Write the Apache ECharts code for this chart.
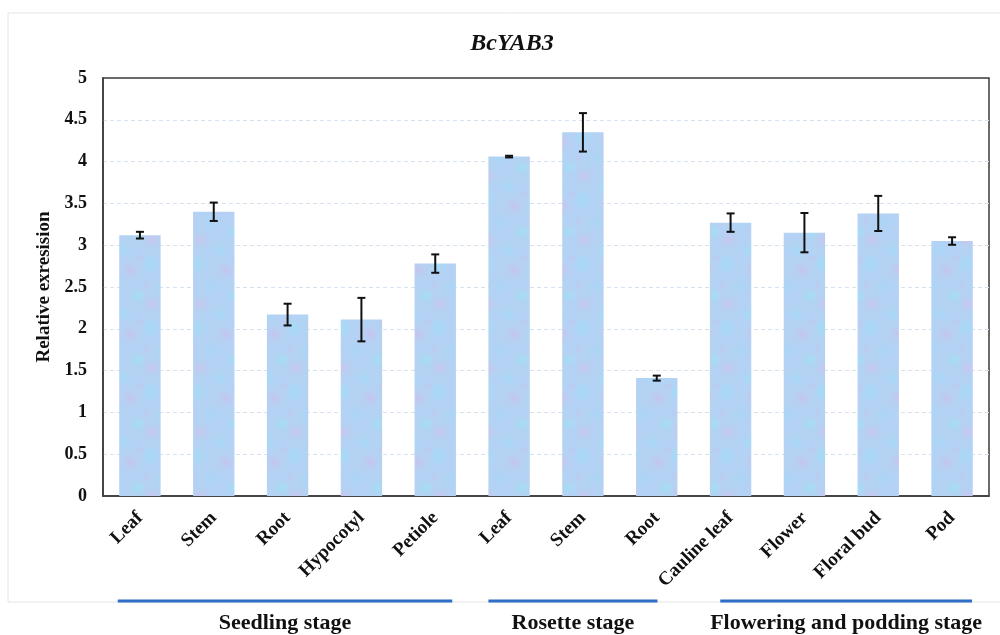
<!DOCTYPE html>
<html>
<head>
<meta charset="utf-8">
<script src="https://cdn.jsdelivr.net/npm/echarts@6/dist/echarts.min.js"></script>
<style>
html,body{margin:0;padding:0;background:#fff;}
#chart{width:1000px;height:635px;}
</style>
</head>
<body>
<div id="chart"></div>
<script>
const categories = ['Leaf','Stem','Root','Hypocotyl','Petiole','Leaf','Stem','Root','Cauline leaf','Flower','Floral bud','Pod'];
const values = [3.12, 3.40, 2.17, 2.11, 2.78, 4.06, 4.35, 1.41, 3.27, 3.15, 3.38, 3.05];
const errors = [0.04, 0.11, 0.13, 0.26, 0.11, 0.01, 0.23, 0.03, 0.11, 0.235, 0.21, 0.045];
const stageNames = ['Seedling stage', 'Rosette stage', 'Flowering and podding stage'];
const stageFirst = [0, 5, 8];
const stageLast = [4, 7, 11];
const yTicks = [0, 0.5, 1, 1.5, 2, 2.5, 3, 3.5, 4, 4.5, 5];

// layout only: how far (in category widths) each stage underline reaches past its first/last category centre
const stagePadLeft = [0.30, 0.28, 0.14];
const stagePadRight = [0.23, 0.01, 0.27];

const serif = '"Liberation Serif", "DejaVu Serif", serif';
const chart = echarts.init(document.getElementById('chart'), null, {renderer: 'canvas'});

// deterministic soft texture tile for the bars
function makeTile() {
  const c = document.createElement('canvas');
  c.width = 48; c.height = 64;
  const g = c.getContext('2d');
  g.fillStyle = '#b4d2f3';
  g.fillRect(0, 0, 48, 64);
  const blobs = [
    [6, 8, 14, 'rgba(160,222,248,0.85)'],
    [34, 14, 12, 'rgba(205,190,238,0.75)'],
    [20, 30, 13, 'rgba(168,214,246,0.8)'],
    [42, 40, 11, 'rgba(158,226,246,0.8)'],
    [8, 48, 12, 'rgba(210,192,236,0.7)'],
    [28, 58, 12, 'rgba(165,218,247,0.85)'],
    [44, 2, 8, 'rgba(190,200,240,0.7)'],
    [0, 30, 8, 'rgba(200,196,238,0.65)']
  ];
  blobs.forEach(b => {
    const rg = g.createRadialGradient(b[0], b[1], 0, b[0], b[1], b[2]);
    rg.addColorStop(0, b[3]);
    rg.addColorStop(1, 'rgba(180,210,243,0)');
    g.fillStyle = rg;
    for (let dx = -48; dx <= 48; dx += 48) for (let dy = -64; dy <= 64; dy += 64) {
      g.beginPath(); g.arc(b[0] + dx, b[1] + dy, b[2], 0, Math.PI * 2); g.fill();
    }
  });
  return c;
}
const barFill = {image: makeTile(), repeat: 'repeat'};

const errData = values.map((v, i) => [i, v, errors[i]]);

const option = {
  animation: false,
  backgroundColor: '#ffffff',
  title: {
    text: 'BcYAB3',
    left: 507, top: 27, textAlign: 'center',
    textStyle: {fontFamily: serif, fontSize: 24, fontWeight: 'bold', fontStyle: 'italic', color: '#111'}
  },
  grid: {
    left: 103, right: 11, top: 78, bottom: 139,
    show: true, borderColor: '#3a3a3a', borderWidth: 1.5, backgroundColor: 'transparent'
  },
  xAxis: {
    type: 'category',
    data: categories,
    axisLine: {show: true, lineStyle: {color: '#3a3a3a', width: 1.5}},
    axisTick: {show: false},
    axisLabel: {
      rotate: 45, margin: 19, interval: 0,
      fontFamily: serif, fontSize: 19, fontWeight: 'bold', color: '#111'
    }
  },
  yAxis: {
    type: 'value',
    min: yTicks[0], max: yTicks[yTicks.length - 1], interval: 0.5,
    name: 'Relative exresision',
    nameLocation: 'middle', nameGap: 43, nameRotate: 90,
    nameTextStyle: {fontFamily: serif, fontSize: 19, fontWeight: 'bold', color: '#111'},
    axisLine: {show: true, lineStyle: {color: '#3a3a3a', width: 1.5}},
    axisTick: {show: false},
    axisLabel: {
      margin: 16, fontFamily: serif, fontSize: 18, fontWeight: 'bold', color: '#111',
      formatter: v => String(v)
    },
    splitLine: {show: true, showMinLine: false, showMaxLine: false, lineStyle: {color: '#d6e2ee', type: [4, 3], width: 1}}
  },
  series: [
    {
      type: 'bar',
      data: values,
      barCategoryGap: '44%',
      itemStyle: {color: barFill},
      z: 2
    },
    {
      type: 'custom',
      data: errData,
      z: 5,
      renderItem: function (params, api) {
        const x = api.value(0), v = api.value(1), e = api.value(2);
        const top = api.coord([x, v + e]);
        const bot = api.coord([x, v - e]);
        const cw = 4;
        const style = {stroke: '#111', lineWidth: 2};
        return {
          type: 'group',
          children: [
            {type: 'line', shape: {x1: top[0], y1: top[1], x2: bot[0], y2: bot[1]}, style: style},
            {type: 'line', shape: {x1: top[0] - cw, y1: top[1], x2: top[0] + cw, y2: top[1]}, style: style},
            {type: 'line', shape: {x1: bot[0] - cw, y1: bot[1], x2: bot[0] + cw, y2: bot[1]}, style: style}
          ]
        };
      }
    }
  ]
};
chart.setOption(option);

// stage annotations, positioned from the category axis
const c0 = chart.convertToPixel({xAxisIndex: 0}, 0);
const c1 = chart.convertToPixel({xAxisIndex: 0}, 1);
const band = c1 - c0;
const graphics = [
  {type: 'rect', shape: {x: 8, y: 13, width: 1000, height: 589}, style: {fill: 'none', stroke: '#e4e4e4', lineWidth: 1}, z: -1}
];
stageNames.forEach((name, k) => {
  const xa = chart.convertToPixel({xAxisIndex: 0}, stageFirst[k]) - stagePadLeft[k] * band;
  const xb = chart.convertToPixel({xAxisIndex: 0}, stageLast[k]) + stagePadRight[k] * band;
  graphics.push({type: 'line', shape: {x1: xa, y1: 601, x2: xb, y2: 601}, style: {stroke: '#2f6ec6', lineWidth: 3}});
  graphics.push({
    type: 'text', x: (xa + xb) / 2, y: 623,
    style: {text: name, align: 'center', verticalAlign: 'middle', font: 'bold 22px ' + serif, fill: '#111'}
  });
});
chart.setOption({graphic: graphics});
</script>
</body>
</html>
